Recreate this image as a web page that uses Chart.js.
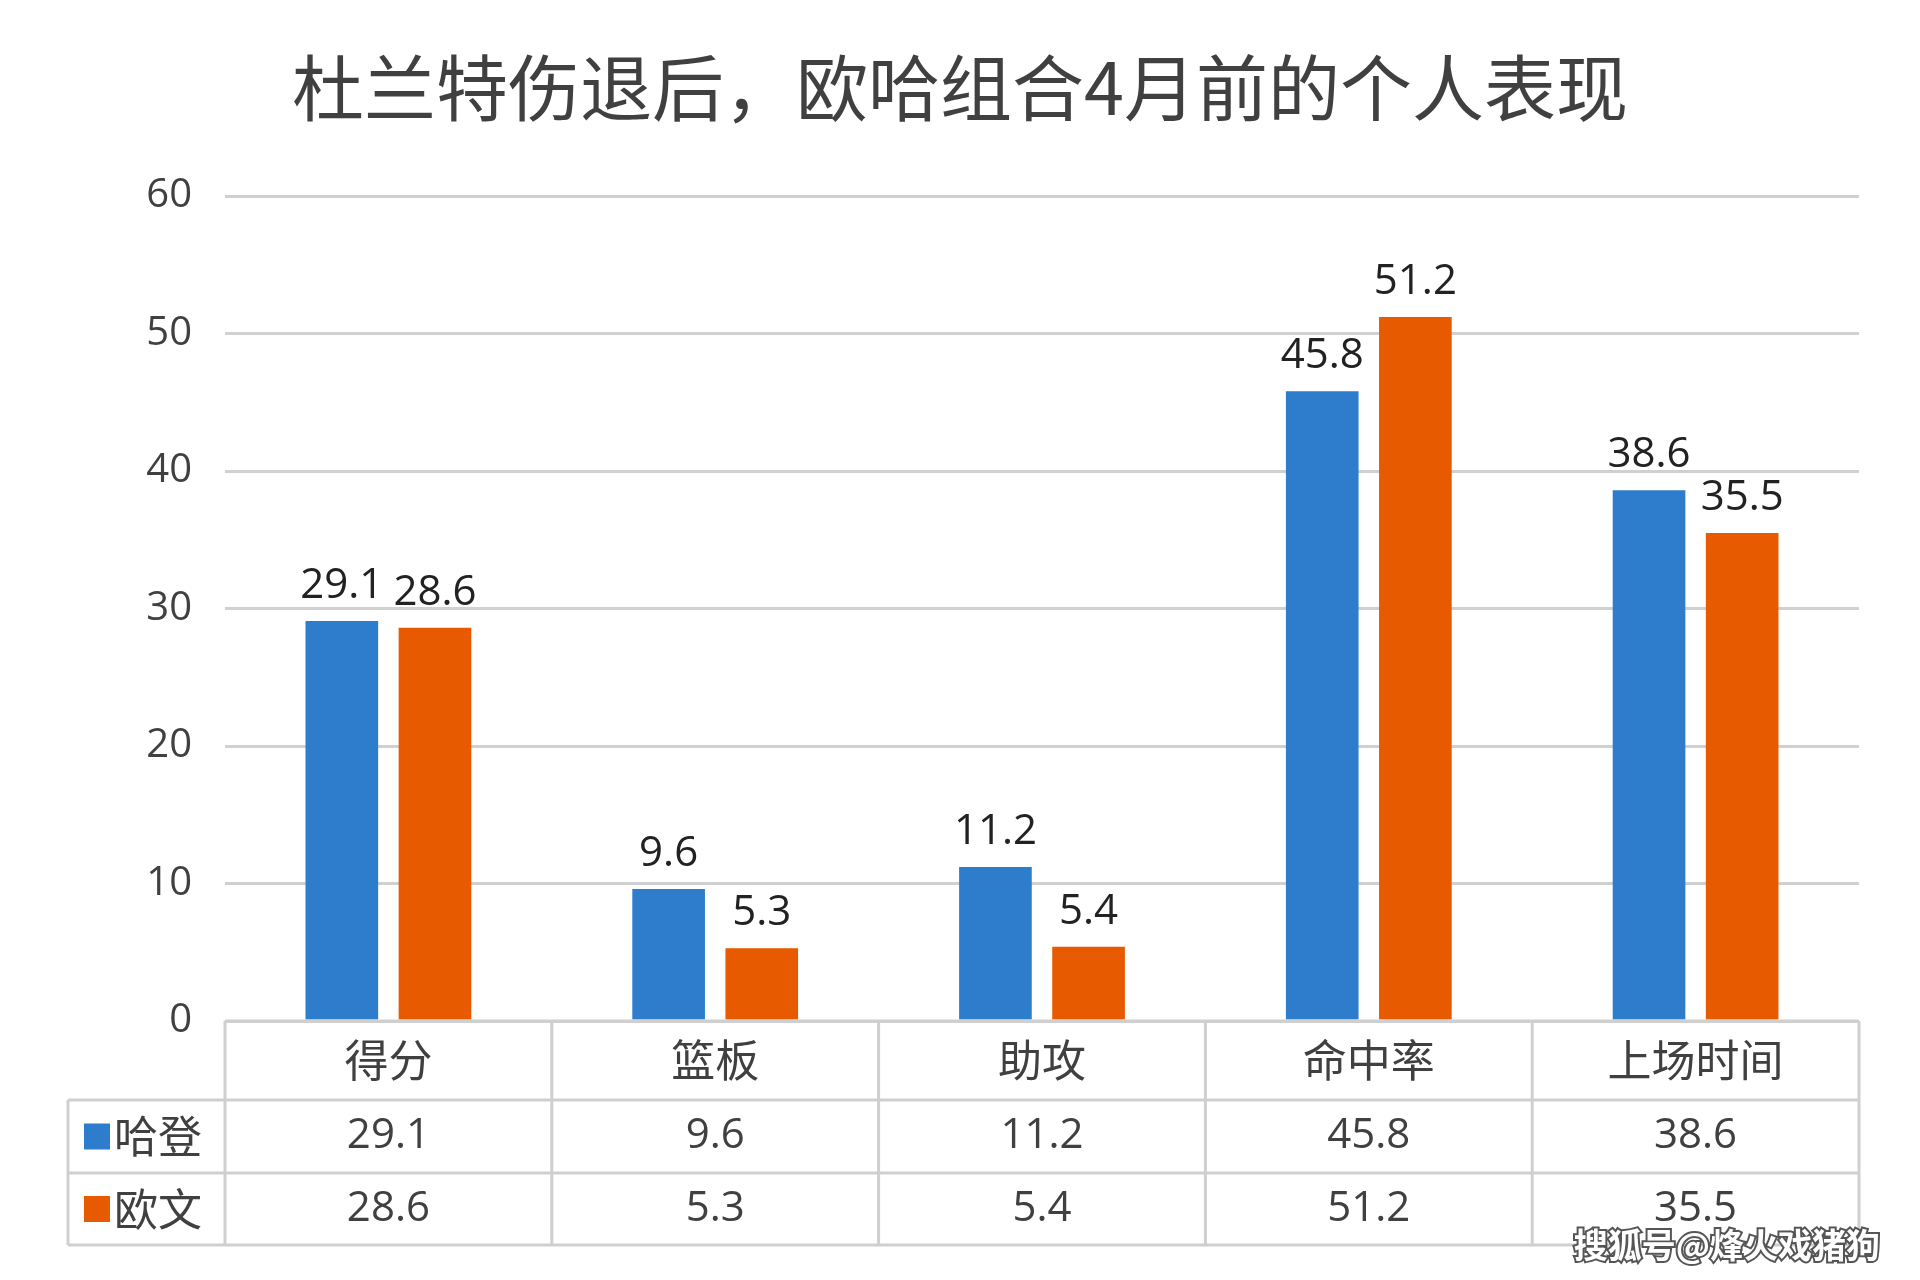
<!DOCTYPE html>
<html><head><meta charset="utf-8">
<script src="https://cdn.jsdelivr.net/npm/chart.js@4/dist/chart.umd.min.js"></script>
<style>html,body{margin:0;background:#fff}#wrap{width:1920px;height:1280px}</style>
</head><body><div id="wrap"><canvas id="c" width="1920" height="1280"></canvas></div>
<script>
const categories=['得分','篮板','助攻','命中率','上场时间'];
const harden=[29.1,9.6,11.2,45.8,38.6];
const irving=[28.6,5.3,5.4,51.2,35.5];
const seriesNames=['哈登','欧文'];
const colors=['#2e7dcc','#e85a00'];
const yTicks=[0,10,20,30,40,50,60];
const title='杜兰特伤退后，欧哈组合4月前的个人表现';
const F='"Noto Sans CJK SC","Noto Sans",sans-serif';
const overlay={id:'overlay',afterDraw(ch){
  const c=ch.ctx,a=ch.chartArea,x=ch.scales.x,y=ch.scales.y;
  c.save();
  c.fillStyle='#404040';c.textAlign='center';c.textBaseline='middle';
  c.font='72px '+F;c.fillText(title,960,88);
  c.font='40px "Open Sans",sans-serif';c.textAlign='right';
  yTicks.forEach(t=>c.fillText(String(t),192,y.getPixelForValue(t)));
  c.textAlign='center';c.textBaseline='bottom';c.fillStyle='#222';
  c.font='42px "Open Sans",sans-serif';
  ch.data.datasets.forEach((ds,i)=>{ch.getDatasetMeta(i).data.forEach((b,j)=>{c.fillText(ds.data[j].toFixed(1),b.x,b.y-14);});});
  const rows=[a.bottom,1100,1173,1245];const L=68;
  const w=(a.right-a.left)/categories.length;
  c.strokeStyle='#cfcfcf';c.lineWidth=3;
  c.beginPath();
  c.moveTo(a.left,rows[0]);c.lineTo(a.right,rows[0]);
  for(let r=1;r<4;r++){c.moveTo(L,rows[r]);c.lineTo(a.right,rows[r]);}
  for(let k=0;k<=categories.length;k++){const xx=a.left+k*w;c.moveTo(xx,rows[0]);c.lineTo(xx,rows[3]);}
  c.moveTo(L,rows[1]);c.lineTo(L,rows[3]);
  c.stroke();
  c.textBaseline='middle';c.fillStyle='#404040';
  c.font='44px '+F;
  categories.forEach((t,j)=>c.fillText(t,x.getPixelForValue(j),(rows[0]+rows[1])/2));
  const vals=[harden,irving];
  vals.forEach((v,i)=>{const cy=(rows[i+1]+rows[i+2])/2;
    c.textAlign='center';c.font='42px "Open Sans",sans-serif';c.fillStyle='#404040';
    v.forEach((n,j)=>c.fillText(n.toFixed(1),x.getPixelForValue(j),cy));
    c.fillStyle=colors[i];c.fillRect(84,cy-13,26,26);
    c.fillStyle='#404040';c.textAlign='left';c.font='44px '+F;c.fillText(seriesNames[i],114,cy);});
  c.font='bold 34px '+F;c.textAlign='right';c.fillStyle='#fff';c.strokeStyle='#555';c.lineWidth=4;
  c.strokeText('搜狐号@烽火戏猪狗',1880,1245);c.fillText('搜狐号@烽火戏猪狗',1880,1245);
  c.restore();
}};
new Chart(document.getElementById('c'),{type:'bar',
 data:{labels:categories,datasets:[
  {label:seriesNames[0],data:harden,backgroundColor:colors[0]},
  {label:seriesNames[1],data:irving,backgroundColor:colors[1]}]},
 options:{responsive:false,animation:false,devicePixelRatio:1,
  layout:{padding:{left:225,right:61,top:196,bottom:259}},
  datasets:{bar:{categoryPercentage:0.57,barPercentage:0.78}},
  plugins:{legend:{display:false},tooltip:{enabled:false},title:{display:false}},
  scales:{x:{display:false},
   y:{min:0,max:60,ticks:{display:false,stepSize:10},border:{display:false},
      grid:{color:'#d0d0d0',lineWidth:3,drawTicks:false}}}},
 plugins:[overlay]});
</script></body></html>
